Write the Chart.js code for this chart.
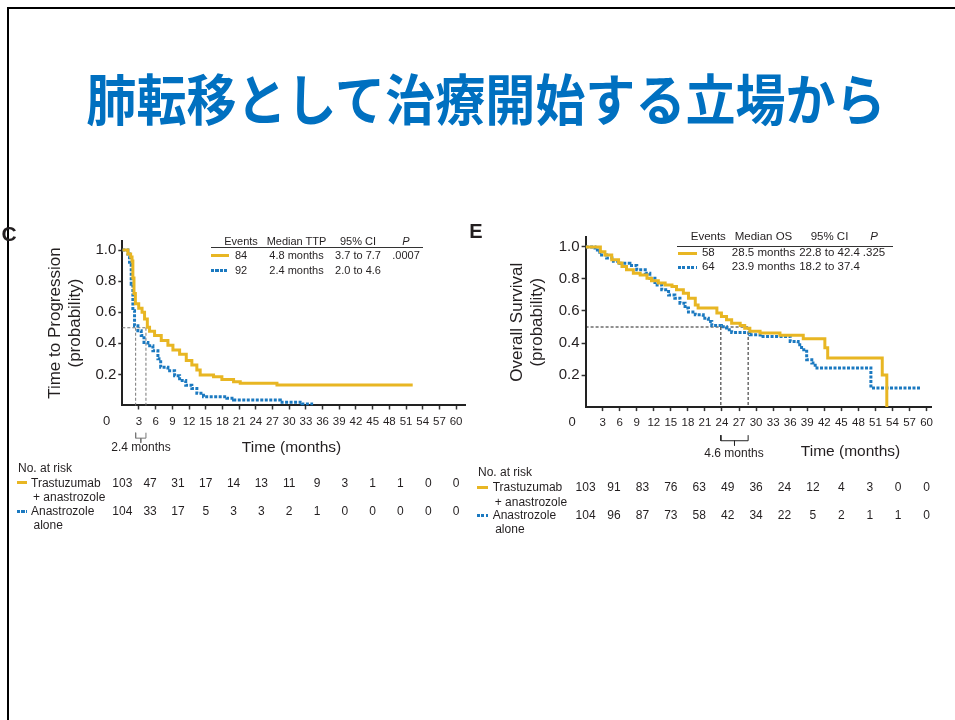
<!DOCTYPE html>
<html>
<head>
<meta charset="utf-8">
<script src="https://cdn.jsdelivr.net/npm/chart.js@4.4.1/dist/chart.umd.min.js"></script>
<style>
  html, body { margin: 0; padding: 0; background: #fff; }
  #page { position: relative; width: 955px; height: 720px; overflow: hidden; font-family: 'Liberation Sans', Arial, sans-serif; color: #231f20; }
  #page canvas { position: absolute; left: 0; top: 0; }
  #marco { position: absolute; left: 7px; top: 7px; width: 1000px; height: 800px; border-top: 2px solid #000; border-left: 2px solid #000; }
  #titulo { position: absolute; left: 486px; top: 96px; transform: translate(-50%, -50%) scaleX(0.91); white-space: nowrap;
            font-family: 'Noto Sans CJK JP', sans-serif; font-weight: bold; font-size: 55px; color: #0070c0; line-height: 1; }
  .t { position: absolute; white-space: nowrap; transform: translate(-50%, -50%); line-height: 1; }
  .l { position: absolute; white-space: nowrap; transform: translate(0, -50%); line-height: 1; }
  .sw { position: absolute; height: 3px; }
</style>
</head>
<body>
<div id="page">
  <div id="marco"></div>
  <div id="titulo">肺転移として治療開始する立場から</div>
  <canvas id="graficoTTP" width="955" height="720"></canvas>
  <canvas id="graficoOS" width="955" height="720"></canvas>
</div>
<script>
const GOLD = '#e8b623';
const BLUE = '#1b79c0';
const INK = '#231f20';

// ticks
const monthTicks = [3, 6, 9, 12, 15, 18, 21, 24, 27, 30, 33, 36, 39, 42, 45, 48, 51, 54, 57, 60];
const probTicks = [0.2, 0.4, 0.6, 0.8, 1.0];
const riskMonths = [0, 5, 10, 15, 20, 25, 30, 35, 40, 45, 50, 55, 60];

// C: time to progression (Kaplan-Meier steps: month, probability after the step)
const ttpTrasMonths = [0, 1.0, 1.5, 1.75, 1.9, 2.1, 2.35, 2.95, 3.55, 4.0, 4.5, 4.9, 5.8, 7.0, 8.2, 9.1, 10.3, 11.5, 12.5, 13.4, 14.0, 16.4, 17.9, 20.0, 21.2, 27.8, 52.2];
const ttpTrasProb   = [1.0, 0.975, 0.955, 0.93, 0.82, 0.72, 0.655, 0.625, 0.60, 0.556, 0.503, 0.477, 0.45, 0.418, 0.387, 0.357, 0.33, 0.29, 0.26, 0.228, 0.196, 0.185, 0.168, 0.153, 0.143, 0.132, 0.132];
const ttpAnaMonths  = [0, 1.0, 1.3, 1.6, 1.9, 2.2, 2.8, 3.4, 3.9, 4.6, 5.5, 6.4, 6.9, 8.2, 9.4, 10.3, 11.4, 12.5, 13.4, 14.6, 18.8, 20.0, 28.4, 32.3, 34.3];
const ttpAnaProb    = [1.0, 0.975, 0.91, 0.78, 0.61, 0.513, 0.481, 0.45, 0.406, 0.385, 0.352, 0.30, 0.246, 0.224, 0.192, 0.16, 0.13, 0.11, 0.078, 0.057, 0.046, 0.035, 0.021, 0.01, 0.01];

// E: overall survival
const osTrasMonths = [0, 2.6, 3.4, 4.6, 5.8, 6.4, 7.2, 8.4, 9.6, 10.8, 11.6, 12.8, 14.0, 15.2, 16.0, 17.2, 18.1, 19.3, 19.8, 23.1, 23.9, 24.8, 25.7, 27.2, 28.0, 28.9, 30.7, 34.2, 38.3, 42.1, 42.6, 52.2, 53.0];
const osTrasProb   = [1.0, 0.97, 0.95, 0.92, 0.90, 0.878, 0.857, 0.836, 0.825, 0.805, 0.788, 0.774, 0.763, 0.753, 0.732, 0.711, 0.68, 0.638, 0.618, 0.587, 0.566, 0.545, 0.524, 0.51, 0.493, 0.473, 0.462, 0.449, 0.427, 0.37, 0.306, 0.2, 0.0];
const osAnaMonths  = [0, 1.65, 2.5, 3.7, 4.9, 6.0, 7.8, 9.0, 10.5, 11.3, 12.2, 13.4, 14.6, 15.7, 16.6, 17.5, 18.1, 19.3, 20.7, 21.6, 22.2, 23.9, 24.8, 25.7, 28.9, 30.7, 36.0, 37.4, 38.0, 38.9, 39.8, 40.4, 50.2, 59.1];
const osAnaProb    = [1.0, 0.98, 0.95, 0.93, 0.91, 0.898, 0.884, 0.857, 0.836, 0.805, 0.763, 0.732, 0.70, 0.68, 0.649, 0.618, 0.593, 0.576, 0.555, 0.535, 0.51, 0.502, 0.483, 0.466, 0.451, 0.441, 0.41, 0.389, 0.358, 0.296, 0.275, 0.244, 0.119, 0.119];

// median guides as drawn in the figure
const ttpGuide = [2.4, 4.25];
const osGuide = [23.8, 28.6];

// numbers at risk
const ttpRiskTras = [103, 47, 31, 17, 14, 13, 11, 9, 3, 1, 1, 0, 0];
const ttpRiskAna  = [104, 33, 17, 5, 3, 3, 2, 1, 0, 0, 0, 0, 0];
const osRiskTras  = [103, 91, 83, 76, 63, 49, 36, 24, 12, 4, 3, 0, 0];
const osRiskAna   = [104, 96, 87, 73, 58, 42, 34, 22, 5, 2, 1, 1, 0];

// legend tables
const ttpHead = ['Events', 'Median TTP', '95% CI', 'P'];
const ttpRows = [['84', '4.8 months', '3.7 to 7.7', '.0007'], ['92', '2.4 months', '2.0 to 4.6', '']];
const osHead = ['Events', 'Median OS', '95% CI', 'P'];
const osRows = [['58', '28.5 months', '22.8 to 42.4', '.325'], ['64', '23.9 months', '18.2 to 37.4', '']];

const page = document.getElementById('page');

function points(months, prob) {
  return months.map((m, i) => ({ x: m, y: prob[i] }));
}

function guideSets(g, color) {
  const dashed = { borderColor: color, borderWidth: 1, borderDash: [3, 2], pointRadius: 0, clip: false };
  const solid = { borderColor: color, borderWidth: 1, pointRadius: 0, clip: false };
  const mid = (g[0] + g[1]) / 2;
  return [
    Object.assign({ data: [{ x: 0, y: 0.5 }, { x: g[1], y: 0.5 }] }, dashed),
    Object.assign({ data: [{ x: g[0], y: 0.5 }, { x: g[0], y: 0 }] }, dashed),
    Object.assign({ data: [{ x: g[1], y: 0.5 }, { x: g[1], y: 0 }] }, dashed),
    Object.assign({ data: [{ x: g[0], y: -0.175 }, { x: g[0], y: -0.21 }, { x: g[1], y: -0.21 }, { x: g[1], y: -0.175 }] }, solid),
    Object.assign({ data: [{ x: mid, y: -0.21 }, { x: mid, y: -0.24 }] }, solid)
  ];
}

function makeKM(id, o) {
  return new Chart(document.getElementById(id), {
    type: 'line',
    data: {
      datasets: [
        { data: points(o.trasMonths, o.trasProb), borderColor: GOLD, borderWidth: 3, stepped: true, pointRadius: 0 },
        { data: points(o.anaMonths, o.anaProb), borderColor: BLUE, borderWidth: 3, borderDash: [3, 1.5], stepped: true, pointRadius: 0 }
      ].concat(guideSets(o.guide, o.guideColor))
    },
    options: {
      responsive: false,
      animation: false,
      layout: { padding: o.padding },
      plugins: { legend: { display: false }, tooltip: { enabled: false } },
      scales: {
        x: {
          type: 'linear', min: 0, max: o.xMax,
          afterBuildTicks: s => { s.ticks = monthTicks.map(v => ({ value: v })); },
          afterFit: s => { s.height = 30; },
          grid: { drawOnChartArea: false, tickLength: 4, tickColor: '#333', tickWidth: 1.5 },
          border: { color: '#222', width: 2 },
          ticks: { font: { size: 11.5, family: 'Liberation Sans' }, color: INK, padding: 5, maxRotation: 0, autoSkip: false }
        },
        y: {
          min: 0, max: 1.06,
          afterBuildTicks: s => { s.ticks = probTicks.map(v => ({ value: v })); },
          afterFit: s => { s.width = o.yWidth; },
          grid: { drawOnChartArea: false, tickLength: 4, tickColor: '#333', tickWidth: 1.5 },
          border: { color: '#222', width: 2 },
          ticks: { callback: v => v.toFixed(1), font: { size: 15, family: 'Liberation Sans' }, color: INK, padding: 2 },
          title: { display: true, text: o.yTitle, color: INK, font: { size: 17, family: 'Liberation Sans', lineHeight: 1.2 }, padding: { top: o.titlePad, bottom: 0 } }
        }
      }
    }
  });
}

const chartTTP = makeKM('graficoTTP', {
  trasMonths: ttpTrasMonths, trasProb: ttpTrasProb, anaMonths: ttpAnaMonths, anaProb: ttpAnaProb,
  guide: ttpGuide, guideColor: '#777', xMax: 61.6, yWidth: 122.3, titlePad: 45,
  yTitle: ['Time to Progression', '(probability)'],
  padding: { left: 0, top: 240.7, right: 490, bottom: 284.5 }
});

const chartOS = makeKM('graficoOS', {
  trasMonths: osTrasMonths, trasProb: osTrasProb, anaMonths: osAnaMonths, anaProb: osAnaProb,
  guide: osGuide, guideColor: '#222', xMax: 60.9, yWidth: 115.6, titlePad: 36.7,
  yTitle: ['Overall Survival', '(probability)'],
  padding: { left: 470, top: 237.3, right: 23.3, bottom: 282.9 }
});

function addText(text, x, y, size, opt = {}) {
  const el = document.createElement('div');
  el.className = opt.left ? 'l' : 't';
  el.textContent = text;
  el.style.left = x + 'px';
  el.style.top = y + 'px';
  el.style.fontSize = size + 'px';
  if (opt.bold) el.style.fontWeight = 'bold';
  if (opt.italic) el.style.fontStyle = 'italic';
  page.appendChild(el);
}

function addSwatch(x1, x2, y, color, dotted) {
  const el = document.createElement('div');
  el.className = 'sw';
  el.style.left = x1 + 'px';
  el.style.top = (y - 1.5) + 'px';
  el.style.width = (x2 - x1) + 'px';
  el.style.background = dotted ? `repeating-linear-gradient(90deg, ${color} 0 3px, transparent 3px 4.5px)` : color;
  page.appendChild(el);
}

function addRule(x1, x2, y) {
  const el = document.createElement('div');
  el.style.position = 'absolute';
  el.style.left = x1 + 'px';
  el.style.top = y + 'px';
  el.style.width = (x2 - x1) + 'px';
  el.style.height = '1px';
  el.style.background = '#333';
  page.appendChild(el);
}

function legendTable(head, rows, cols, ys, rule, sw, size) {
  head.forEach((h, i) => addText(h, cols[i], ys[0], size, { italic: h === 'P' }));
  addRule(rule[0], rule[1], rule[2]);
  rows.forEach((r, k) => {
    addSwatch(sw[0], sw[1], ys[k + 1], k === 0 ? GOLD : BLUE, k === 1);
    r.forEach((v, i) => { if (v) addText(v, cols[i], ys[k + 1], size); });
  });
}

function riskTable(chart, tras, ana, o) {
  const xs = riskMonths.map(m => chart.scales.x.getPixelForValue(m));
  addText('No. at risk', o.head, o.y0, 12, { left: true });
  addSwatch(o.sw[0], o.sw[1], o.y1, GOLD, false);
  addText('Trastuzumab', o.label, o.y1, 12, { left: true });
  addText('+ anastrozole', o.label + 2, o.y1 + 14.5, 12, { left: true });
  addSwatch(o.sw[0], o.sw[1], o.y2, BLUE, true);
  addText('Anastrozole', o.label, o.y2, 12, { left: true });
  addText('alone', o.label + 2.5, o.y2 + 14, 12, { left: true });
  tras.forEach((v, i) => addText(String(v), xs[i], o.y1, 12));
  ana.forEach((v, i) => addText(String(v), xs[i], o.y2, 12));
}

// panel letters and axis extras
addText('C', 9, 233, 21, { bold: true });
addText('E', 476, 231, 20, { bold: true });
addText('0', 106.7, 420, 13);
addText('0', 572, 421, 13);
addText('2.4 months', 141, 447.3, 12);
addText('Time (months)', 291.5, 447.3, 15.5);
addText('4.6 months', 734, 452.7, 12);
addText('Time (months)', 850.5, 450.7, 15.5);

legendTable(ttpHead, ttpRows, [241, 296.5, 358, 406], [240.7, 255, 270], [210.7, 422.7, 247], [211, 229], 11);
legendTable(osHead, osRows, [708.3, 763.5, 829.5, 874], [237.3, 253.3, 267.3], [676.7, 893.3, 245.5], [678, 697], 11.5);

riskTable(chartTTP, ttpRiskTras, ttpRiskAna, { head: 18, label: 31, y0: 467.7, y1: 482.7, y2: 511, sw: [17, 27] });
riskTable(chartOS, osRiskTras, osRiskAna, { head: 478, label: 492.7, y0: 471.7, y1: 487.3, y2: 515, sw: [477, 488] });
</script>
</body>
</html>
